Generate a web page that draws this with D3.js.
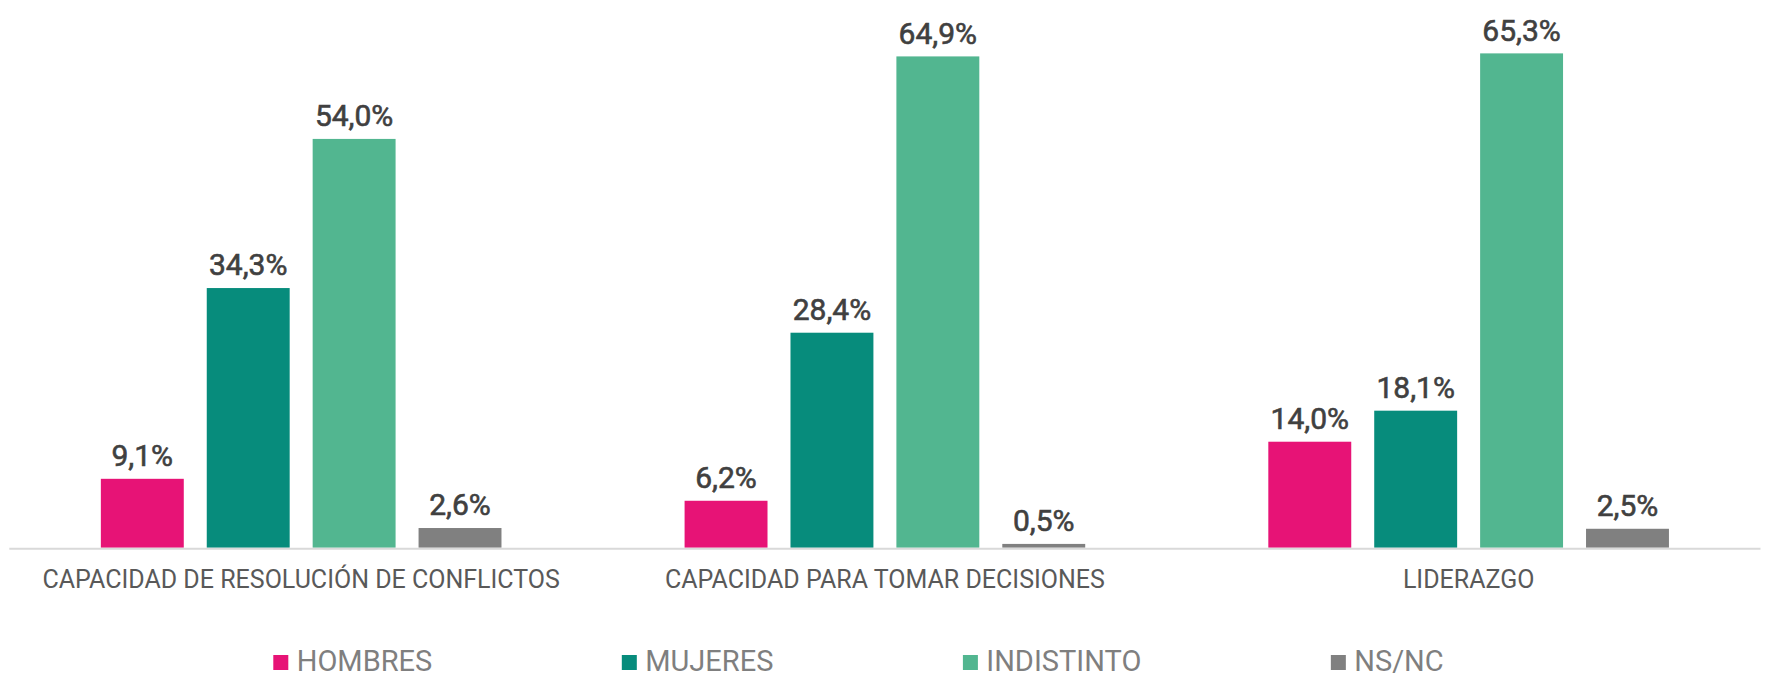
<!doctype html>
<html>

<head>
    <meta charset="UTF-8">
    <title>Capacidades por género</title>
    <style type="text/css">
        body {
            margin: 0;
            background: #ffffff;
        }

        #chart {
            font-family: Roboto, "Noto Sans", sans-serif;
        }

        .valor {
            font-size: 30px;
            font-weight: 400;
            fill: #404040;
            stroke: #404040;
            stroke-width: 0.6px;
        }

        .categoria {
            font-size: 25px;
            fill: #595959;
        }

        .leyenda text {
            font-size: 29px;
            fill: #7f7f7f;
        }
    </style>
</head>

<body>

    <svg id="chart" width="1776" height="677"></svg>

    <script src="https://cdn.jsdelivr.net/npm/d3@7"></script>

    <script type="text/javascript">
        // datos
        var categorias = ["CAPACIDAD DE RESOLUCIÓN DE CONFLICTOS", "CAPACIDAD PARA TOMAR DECISIONES", "LIDERAZGO"];
        var series = ["HOMBRES", "MUJERES", "INDISTINTO", "NS/NC"];
        var hombres = [9.1, 6.2, 14.0];
        var mujeres = [34.3, 28.4, 18.1];
        var indistinto = [54.0, 64.9, 65.3];
        var nsnc = [2.6, 0.5, 2.5];
        var colores = ["#e71376", "#078c7c", "#52b690", "#808080"];

        var valores = [hombres, mujeres, indistinto, nsnc];

        var svg = d3.select("#chart");

        var x0 = d3.scaleBand()
            .domain(categorias)
            .range([9.3, 1760.5]);

        var x1 = d3.scaleBand()
            .domain(series)
            .range([0, x0.bandwidth()])
            .paddingInner(0.217)
            .paddingOuter(0.8645);

        var y = d3.scaleLinear()
            .domain([0, 70])
            .range([547.7, 547.7 - 70 * 7.57]);

        var color = d3.scaleOrdinal().domain(series).range(colores);

        // filas: una por barra
        var barras = [];
        categorias.forEach(function(c, i) {
            series.forEach(function(s, j) {
                barras.push({ cat: c, serie: s, valor: valores[j][i] });
            });
        });

        var grupo = svg.append("g");

        grupo.selectAll(".bar")
            .data(barras)
            .enter()
            .append("rect")
            .attr("class", "bar")
            .attr("x", function(d) { return x0(d.cat) + x1(d.serie); })
            .attr("y", function(d) { return y(d.valor); })
            .attr("width", x1.bandwidth())
            .attr("height", function(d) { return y(0) - y(d.valor); })
            .style("fill", function(d) { return color(d.serie); });

        // línea base
        svg.append("line")
            .attr("x1", x0.range()[0])
            .attr("x2", x0.range()[1])
            .attr("y1", y(0) + 1)
            .attr("y2", y(0) + 1)
            .style("stroke", "#d9d9d9")
            .style("stroke-width", 2);

        // etiquetas de valor
        grupo.selectAll(".valor")
            .data(barras)
            .enter()
            .append("text")
            .attr("class", "valor")
            .attr("text-anchor", "middle")
            .attr("x", function(d) { return x0(d.cat) + x1(d.serie) + x1.bandwidth() / 2; })
            .attr("y", function(d) { return y(d.valor) - 12.6; })
            .text(function(d) { return d.valor.toFixed(1).replace(".", ",") + "%"; });

        // eje de categorías
        svg.selectAll(".categoria")
            .data(categorias)
            .enter()
            .append("text")
            .attr("class", "categoria")
            .attr("text-anchor", "middle")
            .attr("x", function(d) { return x0(d) + x0.bandwidth() / 2; })
            .attr("y", 588.3)
            .text(function(d) { return d; });

        // leyenda
        var leyenda = svg.append("g").attr("class", "leyenda");
        var lx = 273.3;
        series.forEach(function(s) {
            var item = leyenda.append("g").attr("transform", "translate(" + lx + ",0)");
            item.append("rect")
                .attr("x", 0)
                .attr("y", 655)
                .attr("width", 15)
                .attr("height", 15)
                .style("fill", color(s));
            var t = item.append("text")
                .attr("x", 23.4)
                .attr("y", 671)
                .text(s);
            lx += 23.4 + t.node().getComputedTextLength() + 189.5;
        });
    </script>

</body>

</html>
